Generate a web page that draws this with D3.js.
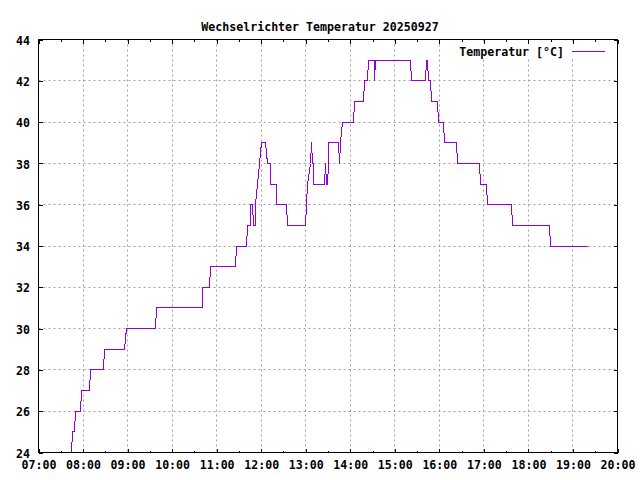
<!DOCTYPE html>
<html>
<head>
<meta charset="utf-8">
<script src="https://cdn.jsdelivr.net/npm/d3@7"></script>
<style>
  html, body { margin: 0; padding: 0; background: #fff; }
  svg { display: block; }
  text { font-family: "DejaVu Sans Mono", "Liberation Mono", monospace; font-weight: bold; font-size: 11.6px; fill: #000; }
</style>
</head>
<body>
<svg id="chart" width="640" height="480"></svg>
<script>
// ---- data ----
const chartTitle = "Wechselrichter Temperatur 20250927";
const seriesName = "Temperatur [°C]";
const times = [
  "07:44","07:46","07:49","07:50","07:56","07:58","08:09","08:10","08:28","08:29",
  "08:56","08:58","09:38","09:39","10:41","10:41","10:50","10:52","11:25","11:27",
  "11:40","11:41","11:45","11:46","11:48","11:49","11:52","11:53","11:55","11:58",
  "12:01","12:06","12:08","12:12","12:13","12:20","12:21","12:34","12:36","13:00",
  "13:01","13:03","13:06","13:07","13:08","13:09","13:11","13:11","13:25","13:26",
  "13:27","13:28","13:29","13:30","13:31","13:44","13:45","13:46","13:47","13:49",
  "14:04","14:06","14:18","14:19","14:23","14:25","14:32","14:33","14:34","15:21",
  "15:22","15:41","15:43","15:44","15:45","15:48","15:49","15:57","15:59","16:05",
  "16:07","16:23","16:25","16:54","16:55","17:03","17:05","17:37","17:39","18:29",
  "18:30","19:19"
];
const temps = [
  24,25,25,26,26,27,27,28,28,29,
  29,30,30,31,31,32,32,33,33,34,
  34,35,35,36,36,35,35,36,37,38,
  39,39,38,38,37,37,36,36,35,35,
  36,37,38,38,39,38,38,37,37,38,
  38,37,37,38,39,39,38,38,39,40,
  40,41,41,42,42,43,43,42,43,43,
  42,42,43,43,42,42,41,41,40,40,
  39,39,38,38,37,37,36,36,35,35,
  34,34
];
const xTickLabels = ["07:00","08:00","09:00","10:00","11:00","12:00","13:00",
                     "14:00","15:00","16:00","17:00","18:00","19:00","20:00"];
const xMinorTicks = ["07:30","08:30","09:30","10:30","11:30","12:30","13:30",
                     "14:30","15:30","16:30","17:30","18:30","19:30"];
const yTickValues = [24,26,28,30,32,34,36,38,40,42,44];

// ---- helpers ----
const toHours = s => { const [h, m] = s.split(":").map(Number); return h + m / 60; };
const points = times.map((t, i) => ({ x: toHours(t), y: temps[i] }));

const L = 38.5, R = 617.5, T = 39.5, B = 452.5;
const x = d3.scaleLinear().domain([toHours(xTickLabels[0]), toHours(xTickLabels[xTickLabels.length - 1])]).range([L, R]);
const y = d3.scaleLinear().domain([yTickValues[0], yTickValues[yTickValues.length - 1]]).range([B, T]);
const px = v => Math.round(v - 0.5) + 0.5;

const svg = d3.select("#chart");
svg.append("rect").attr("width", 640).attr("height", 480).attr("fill", "#fff");

const gridColor = "#a0a0a0";
const xMajor = xTickLabels.map(toHours);
const xMinor = xMinorTicks.map(toHours);

// grid
const grid = svg.append("g");
grid.selectAll("line.gx").data(xMajor.slice(1, -1)).join("line")
  .attr("x1", d => px(x(d))).attr("x2", d => px(x(d)))
  .attr("y1", T).attr("y2", B)
  .attr("stroke", gridColor).attr("stroke-width", 1).attr("stroke-dasharray", "2,3");
grid.selectAll("line.gy").data(yTickValues.slice(1, -1)).join("line")
  .attr("y1", d => px(y(d))).attr("y2", d => px(y(d)))
  .attr("x1", L).attr("x2", R)
  .attr("stroke", gridColor).attr("stroke-width", 1).attr("stroke-dasharray", "2,3");

// axes (ticks inward, mirrored)
const major = 4, minor = 2;
const axBottom = svg.append("g").attr("transform", `translate(0,${B})`)
  .call(d3.axisBottom(x).tickValues(xMajor).tickSizeInner(-major).tickSizeOuter(0).tickPadding(8)
    .tickFormat((d, i) => xTickLabels[i]));
const axBottomMinor = svg.append("g").attr("transform", `translate(0,${B})`)
  .call(d3.axisBottom(x).tickValues(xMinor).tickSizeInner(-minor).tickSizeOuter(0).tickFormat(""));
const axTop = svg.append("g").attr("transform", `translate(0,${T})`)
  .call(d3.axisTop(x).tickValues(xMajor).tickSizeInner(-major).tickSizeOuter(0).tickFormat(""));
const axTopMinor = svg.append("g").attr("transform", `translate(0,${T})`)
  .call(d3.axisTop(x).tickValues(xMinor).tickSizeInner(-minor).tickSizeOuter(0).tickFormat(""));
const axLeft = svg.append("g").attr("transform", `translate(${L},0)`)
  .call(d3.axisLeft(y).tickValues(yTickValues).tickSizeInner(-major).tickSizeOuter(0).tickPadding(8.5)
    .tickFormat(d3.format("d")));
const axRight = svg.append("g").attr("transform", `translate(${R},0)`)
  .call(d3.axisRight(y).tickValues(yTickValues).tickSizeInner(-major).tickSizeOuter(0).tickFormat(""));

svg.selectAll(".domain").remove();
svg.selectAll(".tick line").attr("stroke", "#000").attr("shape-rendering", "crispEdges");
svg.selectAll(".tick text").attr("font-family", null).attr("font-size", null).attr("fill", "#000");
axLeft.selectAll(".tick text").attr("dy", "0.4em");
axBottom.selectAll(".tick text").attr("dy", "0.75em");

// key (opaque)
const key = svg.append("g");
key.append("rect").attr("x", 440).attr("y", 44).attr("width", 172).attr("height", 15).attr("fill", "#fff");
key.append("text").attr("x", 564).attr("y", 55.5).attr("text-anchor", "end").text(seriesName);
key.append("line").attr("x1", 572).attr("x2", 605).attr("y1", 51.5).attr("y2", 51.5)
  .attr("stroke", "#9400d3").attr("stroke-width", 1).attr("shape-rendering", "crispEdges");

// data line
const line = d3.line().x(d => px(x(d.x))).y(d => px(y(d.y)));
svg.append("path").datum(points)
  .attr("d", line)
  .attr("fill", "none").attr("stroke", "#9400d3").attr("stroke-width", 1)
  .attr("shape-rendering", "crispEdges");

// border
svg.append("rect").attr("x", L).attr("y", T).attr("width", R - L).attr("height", B - T)
  .attr("fill", "none").attr("stroke", "#000").attr("stroke-width", 1).attr("shape-rendering", "crispEdges");

// title
svg.append("text").attr("x", 320).attr("y", 31).attr("text-anchor", "middle").text(chartTitle);
</script>
</body>
</html>
